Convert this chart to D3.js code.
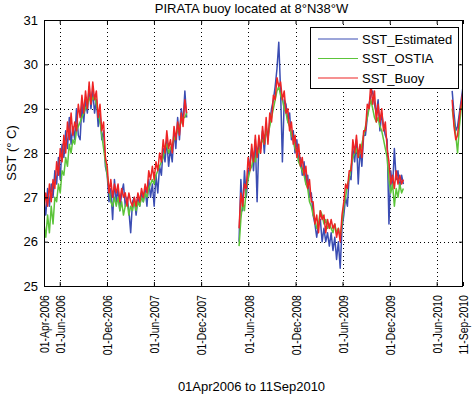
<!DOCTYPE html>
<html>
<head>
<meta charset="utf-8">
<script src="https://cdn.jsdelivr.net/npm/d3@7"></script>
<style>
  body { margin: 0; background: #fff; }
  text { font-family: "Liberation Sans", Arial, sans-serif; font-size: 13px; fill: #000; }
</style>
</head>
<body>
<svg id="chart" width="474" height="396"></svg>
<script>

var TITLE = 'PIRATA buoy located at 8°N38°W';
var X_LABEL = '01Apr2006 to 11Sep2010';
var Y_LABEL = 'SST (° C)';

var X_TICKS = ['01-Apr-2006', '01-Jun-2006', '01-Dec-2006', '01-Jun-2007', '01-Dec-2007',
  '01-Jun-2008', '01-Dec-2008', '01-Jun-2009', '01-Dec-2009', '01-Jun-2010', '11-Sep-2010'];
var Y_TICKS = [25, 26, 27, 28, 29, 30, 31];

var SERIES_NAMES = ['SST_Estimated', 'SST_OSTIA', 'SST_Buoy'];
var SERIES_COLORS = ['#3b4db3', '#5cc43a', '#ee2424'];

// weekly samples, one sub-array per continuous stretch of data
var SEGMENT_STARTS = ['2006-04-01', '2008-04-26', '2010-07-31'];
var STEP_DAYS = 7;

var SST_ESTIMATED = [
  [26.9, 26.6, 27.2, 26.8, 27.3, 27.0, 27.6, 27.3, 27.9, 27.4,
   28.2, 27.9, 28.5, 28.1, 28.8, 28.2, 28.6, 28.3, 29.0, 28.4,
   28.3, 29.1, 28.7, 29.2, 28.9, 29.5, 29.0, 29.4, 28.9, 29.2,
   28.6, 28.9, 28.3, 28.5, 27.7, 27.5, 26.9, 27.2, 26.5, 27.4,
   26.9, 27.2, 26.7, 27.1, 27.3, 26.8, 27.0, 26.7, 26.2, 26.9,
   27.0, 26.6, 27.0, 26.8, 27.1, 26.9, 27.2, 26.8, 27.4, 27.0,
   27.3, 26.8, 27.5, 27.1, 27.7, 27.5, 28.1, 27.8, 28.3, 27.7,
   28.1, 27.8, 28.5, 28.1, 28.8, 28.3, 29.0, 28.7, 29.4, 28.8],
  [26.0, 27.4, 26.7, 27.6, 27.0, 27.5, 27.8, 28.1, 27.6, 28.3,
   26.9, 28.3, 28.1, 28.5, 28.0, 28.6, 28.3, 28.7, 29.0, 29.2,
   29.5, 29.9, 30.5, 29.4, 27.8, 29.2, 29.1, 28.7, 28.9, 28.3,
   28.5, 28.0, 28.3, 27.8, 27.9, 27.5, 27.8, 27.3, 27.5, 27.0,
   27.1, 26.6, 26.4, 26.1, 26.4, 26.5, 26.0, 26.3, 26.0, 26.2,
   25.9, 26.2, 25.8, 26.1, 25.6, 26.0, 25.4, 26.3, 26.6, 27.0,
   26.8, 27.5, 27.4, 28.1, 27.8, 28.3, 27.3, 28.1, 27.7, 28.4,
   28.4, 28.8, 29.1, 29.3, 29.4, 29.1, 28.9, 29.2, 28.5, 28.9,
   28.6, 28.4, 28.3, 26.4, 27.6, 27.2, 28.1, 27.4, 27.6, 27.2,
   27.5, 27.3],
  [29.4, 28.9, 28.5, 28.6, 28.9, 29.2, 29.5]
];

var SST_OSTIA = [
  [26.4, 26.1, 26.6, 26.2, 26.8, 26.4, 27.0, 26.9, 27.3, 27.1,
   27.6, 27.5, 27.9, 27.7, 28.2, 28.0, 28.3, 28.2, 28.5, 28.6,
   28.7, 28.8, 28.9, 29.0, 29.1, 29.2, 29.3, 29.2, 29.3, 29.1,
   28.9, 28.7, 28.4, 28.1, 27.8, 27.5, 27.2, 26.9, 26.8, 27.0,
   26.8, 27.0, 26.7, 26.9, 26.6, 26.8, 26.9, 26.6, 26.8, 26.7,
   26.9, 26.7, 26.9, 26.8, 27.0, 26.9, 27.1, 27.0, 27.2, 27.3,
   27.4, 27.3, 27.5, 27.6, 27.7, 27.8, 27.9, 28.1, 28.2, 28.0,
   28.1, 28.2, 28.3, 28.4, 28.5, 28.6, 28.7, 28.8, 28.8, 28.9],
  [25.9, 26.5, 26.9, 26.7, 27.2, 27.4, 27.6, 27.7, 27.9, 27.8,
   28.1, 28.0, 28.2, 28.3, 28.2, 28.5, 28.4, 28.6, 28.8, 29.0,
   29.2, 29.4, 29.5, 29.3, 29.2, 29.0, 28.9, 28.7, 28.6, 28.4,
   28.3, 28.1, 28.0, 27.8, 27.7, 27.6, 27.5, 27.3, 27.2, 26.9,
   26.8, 26.6, 26.5, 26.3, 26.4, 26.7, 26.6, 26.4, 26.5, 26.3,
   26.4, 26.3, 26.2, 26.4, 26.2, 26.3, 26.1, 26.4, 26.8, 27.0,
   27.3, 27.4, 27.7, 27.9, 28.0, 28.1, 27.9, 28.0, 28.2, 28.4,
   28.6, 28.8, 29.0, 29.2, 29.0, 28.8, 28.7, 28.8, 28.6, 28.5,
   28.3, 28.1, 27.9, 27.4, 27.1, 27.3, 26.8, 27.2, 27.0, 27.3,
   27.1, 27.2],
  [29.0, 28.7, 28.4, 28.0, 28.6, 29.0, 29.3]
];

var SST_BUOY = [
  [26.7, 27.1, 26.8, 27.3, 26.9, 27.4, 27.2, 27.8, 27.5, 28.1,
   27.8, 28.4, 28.0, 28.7, 28.3, 28.9, 28.4, 28.7, 28.5, 29.1,
   28.8, 29.3, 28.9, 29.4, 29.0, 29.6, 29.1, 29.6, 29.2, 29.4,
   28.8, 29.1, 28.5, 28.7, 27.9, 27.7, 27.1, 27.4, 27.0, 27.3,
   27.1, 27.3, 26.9, 27.2, 27.0, 27.1, 26.8, 27.1, 26.9, 26.8,
   27.0, 26.8, 27.1, 26.9, 27.2, 27.0, 27.3, 27.1, 27.6, 27.4,
   27.7, 27.4, 27.8, 27.6, 28.0, 27.8, 28.3, 28.0, 28.5, 28.1,
   28.3, 28.0, 28.6, 28.3, 28.7, 28.4, 28.9, 28.6, 29.2, 28.9],
  [26.3, 27.1, 26.8, 27.3, 27.2, 27.9, 27.6, 28.2, 27.8, 28.4,
   27.9, 28.4, 28.0, 28.6, 28.2, 28.8, 28.2, 28.9, 28.7, 29.3,
   29.2, 29.7, 29.5, 29.6, 29.2, 29.4, 28.9, 29.0, 28.5, 28.7,
   28.2, 28.4, 27.9, 28.2, 27.7, 27.9, 27.5, 27.7, 27.2, 27.4,
   26.9, 26.9, 26.4, 26.6, 26.2, 26.7, 26.5, 26.6, 26.2, 26.5,
   26.3, 26.5, 26.3, 26.4, 26.1, 26.3, 26.0, 26.6, 26.9, 27.3,
   27.2, 27.6, 27.6, 28.3, 28.0, 28.4, 27.9, 28.2, 27.9, 28.5,
   28.5, 29.1, 29.0, 29.6, 29.1, 29.4, 28.7, 29.1, 28.7, 29.0,
   28.5, 28.7, 28.1, 27.8, 27.3, 27.5, 27.2, 27.6, 27.3, 27.5,
   27.3, 27.4],
  [29.2, 28.6, 28.3, 28.4, 28.8, 29.1, 29.4]
];

var SERIES = [SST_ESTIMATED, SST_OSTIA, SST_BUOY];

var parseTick = d3.timeParse('%d-%b-%Y');
var parseIso = d3.timeParse('%Y-%m-%d');
var formatTick = d3.timeFormat('%d-%b-%Y');

var svg = d3.select('#chart');
var margin = { top: 20, right: 11, bottom: 110, left: 44 };
var width = +svg.attr('width') - margin.left - margin.right;
var height = +svg.attr('height') - margin.top - margin.bottom;

var tickDates = X_TICKS.map(parseTick);

var x = d3.scaleTime()
  .domain([tickDates[0], tickDates[tickDates.length - 1]])
  .range([0, width]);
var y = d3.scaleLinear()
  .domain([Y_TICKS[0], Y_TICKS[Y_TICKS.length - 1]])
  .range([height, 0]);

var g = svg.append('g')
  .attr('transform', 'translate(' + margin.left + ',' + margin.top + ')');

g.append('clipPath').attr('id', 'plot-clip')
  .append('rect').attr('width', width).attr('height', height);

// ----- dotted grid -----
var grid = g.append('g').attr('class', 'grid')
  .attr('stroke', '#000').attr('stroke-width', 1).attr('stroke-dasharray', '1,3');
grid.selectAll('.gx')
  .data(tickDates.slice(1, -1))
  .enter().append('line')
  .attr('x1', function(d) { return Math.round(x(d)) + 0.5; })
  .attr('x2', function(d) { return Math.round(x(d)) + 0.5; })
  .attr('y1', 0).attr('y2', height);
grid.selectAll('.gy')
  .data(Y_TICKS.slice(1, -1))
  .enter().append('line')
  .attr('y1', function(d) { return Math.round(y(d)) + 0.5; })
  .attr('y2', function(d) { return Math.round(y(d)) + 0.5; })
  .attr('x1', 0).attr('x2', width);

// ----- series -----
var line = d3.line()
  .x(function(d) { return x(d.date); })
  .y(function(d) { return y(d.value); });

var lines = g.append('g').attr('clip-path', 'url(#plot-clip)');
SERIES.forEach(function(segments, s) {
  segments.forEach(function(vals, k) {
    var start = parseIso(SEGMENT_STARTS[k]);
    var pts = vals.map(function(v, i) {
      return { date: d3.timeDay.offset(start, i * STEP_DAYS), value: v };
    });
    lines.append('path')
      .datum(pts)
      .attr('fill', 'none')
      .attr('stroke', SERIES_COLORS[s])
      .attr('stroke-width', 1.5)
      .attr('stroke-linejoin', 'round')
      .attr('d', line);
  });
});

// ----- axes (MATLAB style, ticks inward) -----
var xb = g.append('g')
  .attr('transform', 'translate(0,' + height + ')')
  .call(d3.axisBottom(x).tickValues(tickDates).tickSizeInner(-4).tickSizeOuter(0)
    .tickFormat(formatTick));
xb.selectAll('text')
  .attr('x', -11.5)
  .attr('y', 0)
  .attr('dy', '0.36em')
  .attr('text-anchor', 'end')
  .attr('transform', 'rotate(-90) scale(0.8,1)');

g.append('g')
  .call(d3.axisTop(x).tickValues(tickDates).tickSizeInner(-4).tickSizeOuter(0)
    .tickFormat(''));

g.append('g')
  .call(d3.axisLeft(y).tickValues(Y_TICKS).tickSizeInner(-4).tickSizeOuter(0)
    .tickPadding(6).tickFormat(d3.format('d')));

g.append('g')
  .attr('transform', 'translate(' + width + ',0)')
  .call(d3.axisRight(y).tickValues(Y_TICKS).tickSizeInner(-4).tickSizeOuter(0)
    .tickFormat(''));

g.selectAll('.domain').remove();
g.append('rect')
  .attr('x', 0.5).attr('y', 0.5)
  .attr('width', width - 1).attr('height', height)
  .attr('fill', 'none').attr('stroke', '#000');

// ----- legend -----
var legend = g.append('g').attr('transform', 'translate(' + (width - 153) + ',7)');
legend.append('rect')
  .attr('x', 0.5).attr('y', 0.5).attr('width', 148).attr('height', 61)
  .attr('fill', '#fff').attr('stroke', '#000');
var item = legend.selectAll('.item')
  .data(SERIES_NAMES)
  .enter().append('g')
  .attr('transform', function(d, i) { return 'translate(0,' + (12 + i * 19.5) + ')'; });
item.append('line')
  .attr('x1', 8).attr('x2', 48)
  .attr('stroke', function(d, i) { return SERIES_COLORS[i]; })
  .attr('stroke-width', 1.2);
item.append('text')
  .attr('x', 52).attr('dy', '0.36em')
  .text(function(d) { return d; });

// ----- labels -----
g.append('text')
  .attr('x', width / 2 - 2).attr('y', -7)
  .attr('text-anchor', 'middle')
  .text(TITLE);

g.append('text')
  .attr('x', width / 2 - 2).attr('y', height + 105)
  .attr('text-anchor', 'middle')
  .text(X_LABEL);

svg.append('text')
  .attr('transform', 'translate(16,' + (margin.top + height / 2) + ') rotate(-90)')
  .attr('text-anchor', 'middle')
  .text(Y_LABEL);

</script>
</body>
</html>
